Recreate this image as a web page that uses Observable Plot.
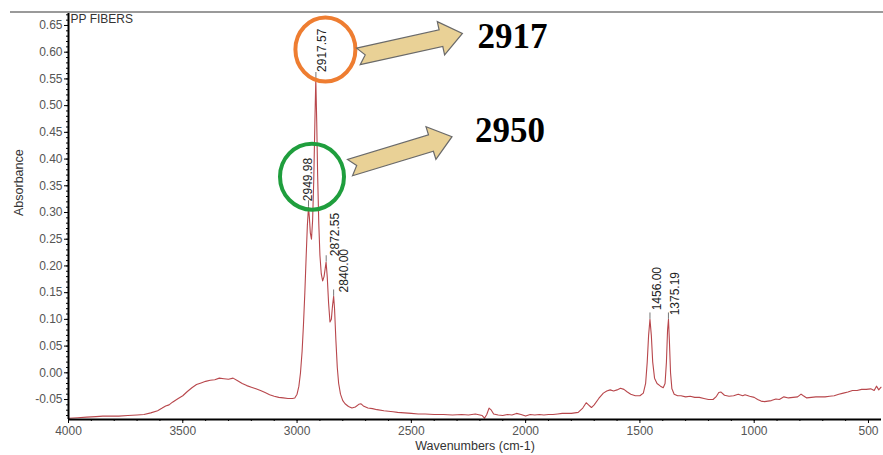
<!DOCTYPE html>
<html><head><meta charset="utf-8">
<script src="https://cdn.jsdelivr.net/npm/d3@7"></script>
<script src="https://cdn.jsdelivr.net/npm/@observablehq/plot@0.6"></script>
<style>body{margin:0;background:#fff}</style>
</head><body><div id="chart"></div>
<script>
// ---- data ----
const wavenumbers = [4000,3960,3920,3880,3850,3820,3780,3740,3700,3670,3640,3610,3590,3575,3560,3545,3520,3500,3480,3460,3440,3420,3400,3380,3360,3340,3320,3300,3280,3260,3240,3220,3200,3180,3160,3140,3120,3100,3080,3060,3040,3020,3010,3000,2992,2985,2978,2972,2966,2960,2955,2950,2946,2942,2937,2932,2927,2922,2918,2914,2910,2905,2900,2894,2888,2882,2877,2873,2868,2862,2856,2850,2845,2840,2836,2830,2824,2818,2810,2800,2790,2775,2760,2745,2730,2720,2710,2690,2670,2650,2620,2600,2580,2560,2530,2500,2470,2440,2400,2360,2320,2280,2250,2220,2190,2180,2170,2160,2150,2140,2120,2100,2080,2060,2040,2020,2000,1980,1960,1940,1920,1900,1880,1860,1840,1800,1770,1750,1735,1725,1712,1700,1680,1660,1645,1630,1615,1600,1585,1570,1555,1540,1520,1500,1485,1475,1468,1462,1456,1450,1444,1436,1425,1410,1398,1390,1384,1379,1375,1371,1366,1360,1350,1335,1320,1300,1280,1260,1240,1220,1200,1180,1165,1155,1145,1130,1110,1090,1070,1050,1040,1020,1000,985,970,955,940,925,905,890,870,850,830,810,795,785,770,750,730,710,690,670,650,630,610,590,570,550,530,510,490,475,465,455,445];
const absorbance = [-0.085,-0.084,-0.083,-0.082,-0.081,-0.081,-0.081,-0.080,-0.079,-0.078,-0.075,-0.071,-0.066,-0.062,-0.060,-0.055,-0.048,-0.043,-0.035,-0.028,-0.022,-0.019,-0.016,-0.014,-0.013,-0.010,-0.011,-0.012,-0.010,-0.015,-0.020,-0.024,-0.027,-0.030,-0.033,-0.037,-0.041,-0.044,-0.046,-0.047,-0.048,-0.048,-0.047,-0.040,-0.025,0.000,0.040,0.090,0.150,0.220,0.275,0.310,0.290,0.262,0.250,0.285,0.360,0.470,0.550,0.470,0.370,0.280,0.220,0.185,0.172,0.180,0.195,0.207,0.180,0.130,0.095,0.100,0.125,0.143,0.120,0.060,0.010,-0.020,-0.040,-0.052,-0.058,-0.063,-0.066,-0.064,-0.059,-0.058,-0.062,-0.066,-0.067,-0.069,-0.071,-0.072,-0.073,-0.074,-0.075,-0.076,-0.077,-0.077,-0.078,-0.078,-0.079,-0.078,-0.079,-0.077,-0.080,-0.085,-0.078,-0.066,-0.070,-0.077,-0.079,-0.080,-0.078,-0.079,-0.076,-0.078,-0.081,-0.078,-0.079,-0.078,-0.079,-0.078,-0.078,-0.077,-0.076,-0.076,-0.074,-0.066,-0.056,-0.060,-0.065,-0.060,-0.048,-0.038,-0.034,-0.032,-0.034,-0.032,-0.029,-0.031,-0.036,-0.040,-0.043,-0.043,-0.038,-0.020,0.020,0.070,0.100,0.070,0.020,-0.010,-0.020,-0.025,-0.028,-0.020,0.020,0.080,0.100,0.060,0.000,-0.030,-0.040,-0.043,-0.043,-0.045,-0.044,-0.046,-0.046,-0.048,-0.050,-0.050,-0.044,-0.037,-0.036,-0.042,-0.044,-0.043,-0.040,-0.043,-0.041,-0.044,-0.046,-0.050,-0.053,-0.054,-0.053,-0.052,-0.049,-0.050,-0.045,-0.047,-0.046,-0.045,-0.040,-0.043,-0.047,-0.046,-0.045,-0.045,-0.045,-0.044,-0.043,-0.040,-0.038,-0.036,-0.033,-0.033,-0.031,-0.031,-0.030,-0.033,-0.025,-0.032,-0.027];

const peakWavenumbers = [2949.98, 2917.57, 2872.55, 2840.00, 1456.00, 1375.19];
const peakAbsorbance  = [0.310, 0.550, 0.207, 0.143, 0.100, 0.100];
const peakLabels      = ["2949.98", "2917.57", "2872.55", "2840.00", "1456.00", "1375.19"];

const calloutWavenumbers = [2917.57, 2949.98];
const calloutAbsorbance  = [0.550, 0.310];
const calloutTexts       = ["2917", "2950"];

const yTicks = [-0.05, 0.00, 0.05, 0.10, 0.15, 0.20, 0.25, 0.30, 0.35, 0.40, 0.45, 0.50, 0.55, 0.60, 0.65];
const yTickLabels = ["-0.05","0.00","0.05","0.10","0.15","0.20","0.25","0.30","0.35","0.40","0.45","0.50","0.55","0.60","0.65"];
const xTicks = [4000, 3500, 3000, 2500, 2000, 1500, 1000, 500];
const xTickLabels = ["4000","3500","3000","2500","2000","1500","1000","500"];

const chartTitle = "PP FIBERS";
const yLabel = "Absorbance";
const xLabel = "Wavenumbers (cm-1)";

// ---- styling / layout ----
const W = 883, H = 455;
const margins = {top: 12, right: 2, bottom: 36, left: 68};
const labelOffsets = [[0, -6], [6, -7], [9, -6], [11, -4], [7, -9], [7, -4]];
const calloutStyles = [
  {color: "#ee7d31", circle: [10, -29, 30, 32], tail: [43, -22], tip: [147, -45], text: [162, -30]},
  {color: "#1f9e3d", circle: [4, -30, 32, 33], tail: [42, -39], tip: [144, -70], text: [167, -65]}
];

const spectrum = wavenumbers.map((w, i) => ({w, a: absorbance[i]}));
const peaks = peakWavenumbers.map((w, i) => ({w, a: peakAbsorbance[i], label: peakLabels[i]}));
const yFmt = d => yTickLabels[yTicks.indexOf(d)] ?? "";
const xFmt = d => xTickLabels[xTicks.indexOf(d)] ?? "";
const noText = () => "";

function arrowPath(T, P) {
  const dx = P[0] - T[0], dy = P[1] - T[1];
  const len = Math.hypot(dx, dy);
  const u = [dx / len, dy / len], v = [-u[1], u[0]];
  const w = 8.5, h = 17, L = 22, n = 7;
  const at = (s, t) => [T[0] + u[0] * s + v[0] * t, T[1] + u[1] * s + v[1] * t];
  const pts = [at(0, w), at(len - L, w), at(len - L, h), P, at(len - L, -h), at(len - L, -w), at(0, -w), at(n, 0)];
  return "M" + pts.map(p => p[0].toFixed(1) + "," + p[1].toFixed(1)).join("L") + "Z";
}

function callouts(index, scales, values, dimensions) {
  const g = d3.create("svg:g");
  g.append("line").attr("x1", 10).attr("x2", dimensions.width)
    .attr("y1", dimensions.marginTop).attr("y2", dimensions.marginTop)
    .attr("stroke", "#9a9a9a").attr("stroke-width", 2);
  calloutWavenumbers.forEach((wn, i) => {
    const s = calloutStyles[i];
    const px = scales.x(wn), py = scales.y(calloutAbsorbance[i]);
    g.append("ellipse").attr("cx", px + s.circle[0]).attr("cy", py + s.circle[1])
      .attr("rx", s.circle[2]).attr("ry", s.circle[3])
      .attr("fill", "none").attr("stroke", s.color).attr("stroke-width", 4);
    g.append("path").attr("d", arrowPath([px + s.tail[0], py + s.tail[1]], [px + s.tip[0], py + s.tip[1]]))
      .attr("fill", "#e9d196").attr("stroke", "#6a6a6a").attr("stroke-width", 1.2).attr("stroke-linejoin", "miter");
    g.append("text").attr("x", px + s.text[0]).attr("y", py + s.text[1])
      .attr("text-anchor", "start")
      .attr("font-family", "'Liberation Serif', 'Times New Roman', serif")
      .attr("font-weight", "bold").attr("font-size", 35).attr("fill", "#000")
      .text(calloutTexts[i]);
  });
  return g.node();
}

const marks = [
  Plot.line(spectrum, {x: "w", y: "a", stroke: "#b8474c", strokeWidth: 1.1}),
  Plot.ruleX(peaks, {x: "w", y1: "a", y2: d => d.a + 0.012, stroke: "#777", strokeWidth: 1}),
  ...peaks.map((p, i) => Plot.text([p], {
    x: "w", y: "a", text: "label", rotate: -90, textAnchor: "start",
    dx: labelOffsets[i][0], dy: labelOffsets[i][1], fontSize: 12, fill: "#222"
  })),
  Plot.axisY({ticks: yTicks, tickFormat: yFmt, tickSize: 4, tickPadding: 2, fontSize: 12, fill: "#555", stroke: "#000", label: null}),
  Plot.axisY({ticks: d3.range(-8, 68).map(i => i / 100), tickFormat: noText, tickSize: 2, stroke: "#000", label: null}),
  Plot.axisX({ticks: xTicks, tickFormat: xFmt, tickSize: 4, tickPadding: 3, fontSize: 12, fill: "#555", stroke: "#000", label: null}),
  Plot.axisX({ticks: d3.range(500, 4001, 100), tickFormat: noText, tickSize: 2, stroke: "#000", label: null}),
  Plot.ruleX([wavenumbers[0]], {stroke: "#000", strokeWidth: 2}),
  Plot.ruleY([-0.0874], {stroke: "#000", strokeWidth: 2}),
  Plot.text([chartTitle], {frameAnchor: "top-left", dx: 2, dy: 2, textAnchor: "start", lineAnchor: "top", fontSize: 12, fill: "#333"}),
  Plot.text([yLabel], {frameAnchor: "left", dx: -50, rotate: -90, fontSize: 12.5, fill: "#333"}),
  Plot.text([xLabel], {frameAnchor: "bottom", dy: 30, fontSize: 12.5, fill: "#333"}),
  callouts
];

const chart = Plot.plot({
  width: W, height: H,
  marginTop: margins.top, marginRight: margins.right, marginBottom: margins.bottom, marginLeft: margins.left,
  x: {domain: [4000, 443]},
  y: {domain: [-0.0874, 0.6743]},
  style: {fontFamily: "'Liberation Sans', Arial, sans-serif", fontSize: "12px", background: "#fff", color: "#000"},
  marks
});
document.getElementById("chart").appendChild(chart);
</script>
</body></html>
